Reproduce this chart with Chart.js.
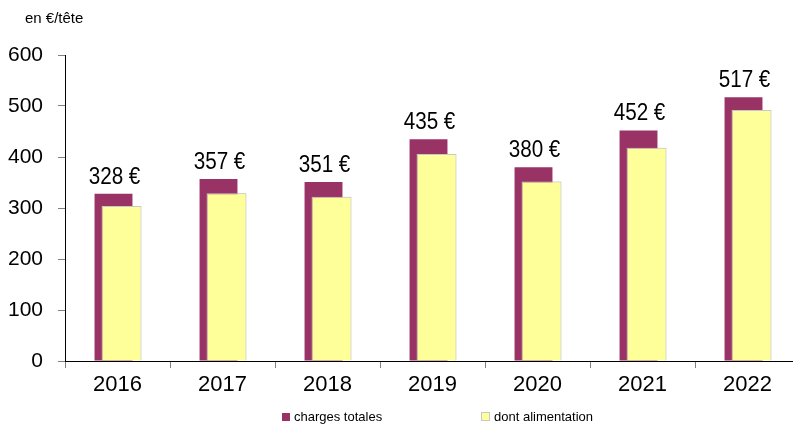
<!DOCTYPE html>
<html>
<head>
<meta charset="utf-8">
<script src="https://cdn.jsdelivr.net/npm/chart.js@4/dist/chart.umd.min.js"></script>
<style>
  body { margin: 0; background: #fff; font-family: "Liberation Sans", Arial, sans-serif; }
  #wrap { position: relative; width: 793px; height: 425px; overflow: hidden; }
  #costsChart { position: absolute; left: 0; top: 0; }
  #unit { position: absolute; left: 25px; top: 9px; font-size: 15px; color: #000; }
  .leg { position: absolute; top: 409px; font-size: 13px; color: #000; white-space: nowrap; }
  .leg span { display: inline-block; width: 8px; height: 8px; margin-right: 4px; vertical-align: 0px; }
</style>
</head>
<body>
<div id="wrap">
  <canvas id="costsChart" width="800" height="425"></canvas>
  <div id="unit">en €/tête</div>
  <div class="leg" style="left:282px"><span style="background:#993366"></span>charges totales</div>
  <div class="leg" style="left:481px"><span style="background:#ffff99;border:1px solid #c8c8c8;width:7px;height:7px"></span>dont alimentation</div>
</div>
<script>
// valeurs (en €/tête)
var years = ['2016', '2017', '2018', '2019', '2020', '2021', '2022'];
var chargesTotales = [328, 357, 351, 435, 380, 452, 517];
var dontAlimentation = [304, 329, 322, 406, 352, 418, 492];
var yTicks = [0, 100, 200, 300, 400, 500, 600];

var font = '"Liberation Sans", Arial, sans-serif';

// la série jaune doit passer devant la violette : on la redessine par-dessus
// puis on écrit les étiquettes "xxx €" (police un peu étroite) au-dessus des barres violettes
var valueLabels = {
    id: 'valueLabels',
    afterDatasetsDraw: function (chart) {
        chart.getDatasetMeta(1).controller.draw();
        var ctx = chart.ctx;
        var meta = chart.getDatasetMeta(0);
        var sx = 0.86;
        ctx.save();
        ctx.font = '24px ' + font;
        ctx.fillStyle = '#000';
        ctx.textAlign = 'center';
        ctx.textBaseline = 'alphabetic';
        meta.data.forEach(function (bar, i) {
            ctx.save();
            ctx.translate(bar.x + 1, bar.y - 10);
            ctx.scale(sx, 1);
            ctx.fillText(chargesTotales[i] + ' €', 0, 0);
            ctx.restore();
        });
        ctx.restore();
    }
};

var ctx = document.getElementById('costsChart').getContext('2d');
var chart = new Chart(ctx, {
    type: 'bar',
    data: {
        labels: years,
        datasets: [{
            label: 'charges totales',
            data: chargesTotales,
            backgroundColor: '#993366',
            borderWidth: 0,
            barPercentage: 4.75,
            categoryPercentage: 0.152
        }, {
            label: 'dont alimentation',
            data: dontAlimentation,
            backgroundColor: '#ffff99',
            borderColor: '#c8c8c8',
            borderWidth: 1,
            barPercentage: 5.0,
            categoryPercentage: 0.152
        }]
    },
    options: {
        responsive: false,
        animation: false,
        layout: { padding: { top: 55, bottom: 24, left: 0, right: 0 } },
        plugins: {
            legend: { display: false },
            tooltip: { enabled: false }
        },
        scales: {
            x: {
                grid: {
                    offset: true,
                    drawOnChartArea: false,
                    tickLength: 7,
                    color: '#808080'
                },
                border: { color: '#000', width: 1 },
                ticks: {
                    color: '#000',
                    padding: 4,
                    font: { family: font, size: 22 }
                },
                afterFit: function (scale) { scale.height = 40; }
            },
            y: {
                min: 0,
                max: 600,
                afterBuildTicks: function (scale) {
                    scale.ticks = yTicks.map(function (v) { return { value: v }; });
                },
                grid: {
                    drawOnChartArea: false,
                    tickLength: 7,
                    color: '#808080'
                },
                border: { color: '#000', width: 1 },
                ticks: {
                    color: '#000',
                    padding: 15,
                    font: { family: font, size: 21 }
                },
                afterFit: function (scale) { scale.width = 65; }
            }
        }
    },
    plugins: [valueLabels]
});
</script>
</body>
</html>
